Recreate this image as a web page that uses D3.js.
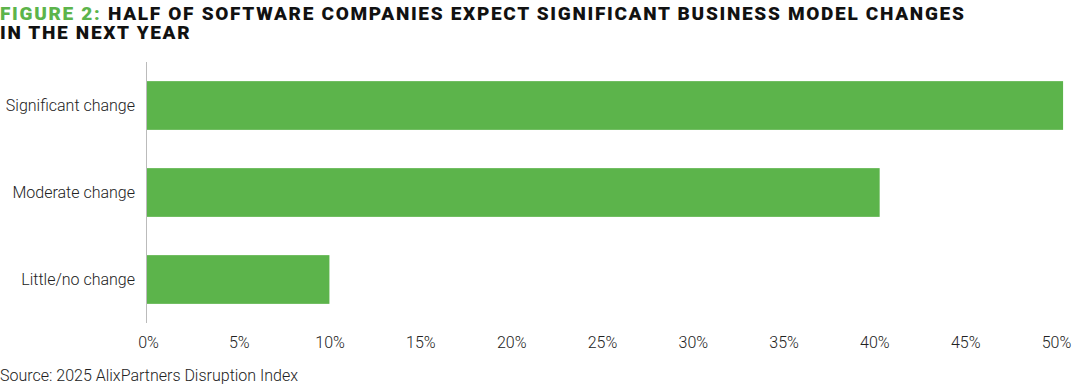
<!DOCTYPE html>
<html>
<head>
<meta charset="utf-8">
<script src="https://cdn.jsdelivr.net/npm/d3@7"></script>
<style>
  body { margin: 0; background: #fff; }
  svg { display: block; font-family: Roboto, "Noto Sans", sans-serif; }
</style>
</head>
<body>
<div class="graphic"></div>
<script>
var categories = ["Significant change", "Moderate change", "Little/no change"];
var values = [50.5, 40.4, 10.1];
var tickValues = [0, 5, 10, 15, 20, 25, 30, 35, 40, 45, 50];

var width = 1075;
var height = 385;
var green = "#5cb44b";

var svg = d3.select("div.graphic").append("svg")
	.attr("width", width)
	.attr("height", height);

// title, two lines in one text block
var title = svg.append("text")
	.attr("x", 0)
	.attr("y", 20)
	.style("font-size", "19px")
	.style("font-weight", 900)
	.style("letter-spacing", "1.7px")
	.attr("fill", "#111");
title.append("tspan").attr("fill", green).text("FIGURE 2: ");
title.append("tspan").text("HALF OF SOFTWARE COMPANIES EXPECT SIGNIFICANT BUSINESS MODEL CHANGES");
title.append("tspan").attr("x", 0).attr("dy", 19).text("IN THE NEXT YEAR");

var x = d3.scaleLinear().domain([0, 50]).range([146, 1054]);
var y = d3.scaleBand().domain(categories).range([62, 323])
	.paddingInner(0.44).paddingOuter(0.22);

var chart = svg.append("g");

chart.selectAll("rect.bar")
	.data(values)
	.enter()
	.append("rect")
	.attr("class", "bar")
	.attr("x", x(0))
	.attr("y", function (d, i) { return y(categories[i]); })
	.attr("width", function (d) { return x(d) - x(0); })
	.attr("height", y.bandwidth())
	.attr("fill", green);

// baseline
chart.append("line")
	.attr("x1", x(0) + 0.5).attr("x2", x(0) + 0.5)
	.attr("y1", y.range()[0]).attr("y2", y.range()[1])
	.attr("stroke", "#bbb")
	.attr("stroke-width", 1);

// category labels
var yAxis = d3.axisLeft(y).tickSize(0).tickPadding(11);
chart.append("g")
	.attr("transform", "translate(" + x(0) + ",0)")
	.call(yAxis)
	.call(function (g) { g.select(".domain").remove(); })
	.selectAll("text")
	.style("font-size", "16px")
	.style("font-family", "Roboto, sans-serif")
	.style("font-weight", 300)
	.attr("fill", "#222");

// value axis
var xAxis = d3.axisBottom(x).tickValues(tickValues).tickSize(0).tickPadding(0)
	.tickFormat(function (d) { return d + "%"; });
chart.append("g")
	.attr("transform", "translate(2,337)")
	.call(xAxis)
	.call(function (g) { g.select(".domain").remove(); })
	.selectAll("text")
	.style("font-size", "16px")
	.style("font-family", "Roboto, sans-serif")
	.style("font-weight", 300)
	.attr("fill", "#222");

svg.append("text")
	.attr("x", 0)
	.attr("y", 381)
	.style("font-size", "16px")
	.style("font-weight", 300)
	.attr("fill", "#222")
	.text("Source: 2025 AlixPartners Disruption Index");
</script>
</body>
</html>
